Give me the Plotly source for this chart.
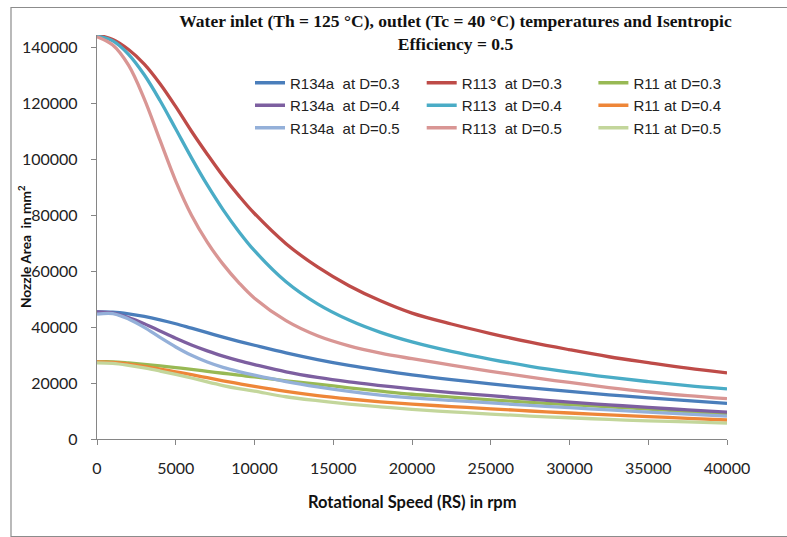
import plotly.graph_objects as go

rpm = [0, 1000, 2000, 3000, 4000, 5000, 6000, 7000, 8000, 9000, 10000, 12000, 14000,
       16000, 18000, 20000, 22500, 25000, 27500, 30000, 32500, 35000, 37500, 40000]

r134a_d03 = [45400, 45300, 44700, 43800, 42600, 41200, 39600, 38000, 36400, 34900, 33500, 30800, 28400,
             26300, 24500, 22900, 21200, 19700, 18300, 17000, 15800, 14700, 13700, 12700]
r134a_d04 = [45400, 45000, 43400, 41200, 38600, 36000, 33600, 31500, 29600, 28000, 26600, 24000, 22000,
             20400, 19100, 17900, 16600, 15500, 14300, 13200, 12200, 11300, 10400, 9600]
r134a_d05 = [44600, 44800, 42900, 39900, 36300, 32900, 29900, 27500, 25600, 24100, 22800, 20500, 18600,
             17000, 15700, 14700, 13800, 12900, 12000, 11200, 10400, 9600, 8900, 8200]
r113_d03 = [144400, 142800, 139200, 134000, 127000, 118800, 110000, 101800, 94000, 87000, 80600, 69800, 61500,
            54800, 49400, 45000, 41100, 37700, 34600, 31900, 29400, 27300, 25300, 23600]
r113_d04 = [144000, 142300, 137500, 130200, 121000, 110800, 100500, 90800, 82000, 74200, 67300, 56200, 48300,
            42500, 38100, 34700, 31300, 28500, 26000, 23900, 22100, 20500, 19100, 17900]
r113_d05 = [143800, 140800, 133600, 121600, 106800, 92200, 80000, 70400, 62500, 55900, 50300, 42300, 36900,
            33300, 30700, 28700, 26400, 24200, 22100, 20200, 18400, 16800, 15500, 14400]
r11_d03 = [27600, 27600, 27200, 26700, 26100, 25500, 24900, 24200, 23500, 22800, 22200, 20800, 19600,
           18300, 17100, 16000, 15000, 14000, 13100, 12300, 11500, 10700, 9800, 8900]
r11_d04 = [27600, 27400, 26800, 26000, 25000, 24000, 23000, 21900, 20800, 19800, 18800, 17000, 15500,
           14300, 13300, 12500, 11600, 10800, 10000, 9300, 8600, 8000, 7400, 6800]
r11_d05 = [27200, 27000, 26300, 25400, 24300, 23100, 21800, 20400, 19100, 18000, 17100, 15100, 13700,
           12500, 11500, 10600, 9700, 8900, 8200, 7600, 7000, 6500, 6100, 5700]

# legend order (row by row, as in the reference legend)
series = [
    ("R134a\u00a0 at D=0.3", r134a_d03, "#4A7EBB"),
    ("R113\u00a0 at D=0.3", r113_d03, "#BE4B48"),
    ("R11 at D=0.3", r11_d03, "#98B954"),
    ("R134a\u00a0 at D=0.4", r134a_d04, "#7D5FA0"),
    ("R113\u00a0 at D=0.4", r113_d04, "#4AACC6"),
    ("R11 at D=0.4", r11_d04, "#EE8638"),
    ("R134a\u00a0 at D=0.5", r134a_d05, "#94B0D9"),
    ("R113\u00a0 at D=0.5", r113_d05, "#D99694"),
    ("R11 at D=0.5", r11_d05, "#C3D69B"),
]

fig = go.Figure()
for name, vals, col in series:
    fig.add_trace(go.Scatter(x=rpm, y=vals, name=name, mode="lines",
                             line=dict(color=col, width=3.3, shape="spline", smoothing=1.0)))

W, H = 787, 537
ml, mr, mt, mb = 97, 60, 35, 98
pw, ph = W - ml - mr, H - mt - mb

sans = "Lato, Liberation Sans, sans-serif"
tickfont = dict(family=sans, size=16, color="#222222")

fig.update_layout(
    width=W, height=H,
    margin=dict(l=ml, r=mr, t=mt, b=mb, autoexpand=False),
    paper_bgcolor="white", plot_bgcolor="white",
    showlegend=True,
    legend=dict(orientation="h", x=(250 - ml) / pw, xanchor="left",
                y=1 - (66.5 - mt) / ph, yanchor="top",
                entrywidth=126.7, entrywidthmode="pixels",
                font=dict(family="Liberation Sans, Arial, sans-serif", size=15, color="#222222"),
                bgcolor="rgba(0,0,0,0)", itemwidth=30, tracegroupgap=0),
    title=dict(text="Water inlet (Th = 125 °C), outlet (Tc = 40 °C) temperatures and Isentropic<br>Efficiency = 0.5",
               x=455.5 / W, xanchor="center", xref="container",
               y=1 - 27 / H, yanchor="middle", yref="container",
               font=dict(family="Liberation Serif, serif", size=17.5, color="#111111", weight="bold")),
    xaxis=dict(range=[0, 40000], dtick=5000, tick0=0, showgrid=False, zeroline=False,
               showline=True, linecolor="#868686", linewidth=1.3,
               ticks="outside", ticklen=5, tickcolor="#868686", tickwidth=1.3,
               tickfont=tickfont, ticklabelstandoff=10, tickformat="d"),
    yaxis=dict(range=[0, 144400], dtick=20000, tick0=0, showgrid=False, zeroline=False,
               showline=True, linecolor="#868686", linewidth=1.3,
               ticks="outside", ticklen=5, tickcolor="#868686", tickwidth=1.3,
               tickfont=tickfont, ticklabelstandoff=10, tickformat="d"),
)

fig.add_annotation(text="Nozzle Area  in mm<sup>2</sup>", xref="paper", yref="paper",
                   x=(25 - ml) / pw, y=(H - mb - 247) / ph, xanchor="center", yanchor="middle",
                   textangle=-90, showarrow=False,
                   font=dict(family=sans, size=13.7, color="#111111", weight="bold"))
fig.add_annotation(text="Rotational Speed (RS) in rpm", xref="paper", yref="paper",
                   x=(412 - ml) / pw, y=(H - mb - 502) / ph, xanchor="center", yanchor="middle",
                   showarrow=False,
                   font=dict(family=sans, size=16.5, color="#111111", weight="bold"))

# chart border
fig.add_shape(type="rect", xref="paper", yref="paper",
              x0=(11 - ml) / pw, x1=(795 - ml) / pw,
              y0=(H - mb - 536.5) / ph, y1=(H - mb - 7.5) / ph,
              line=dict(color="#8C8C8C", width=1.2), fillcolor="rgba(0,0,0,0)", layer="below")

fig.write_html("out.html")
